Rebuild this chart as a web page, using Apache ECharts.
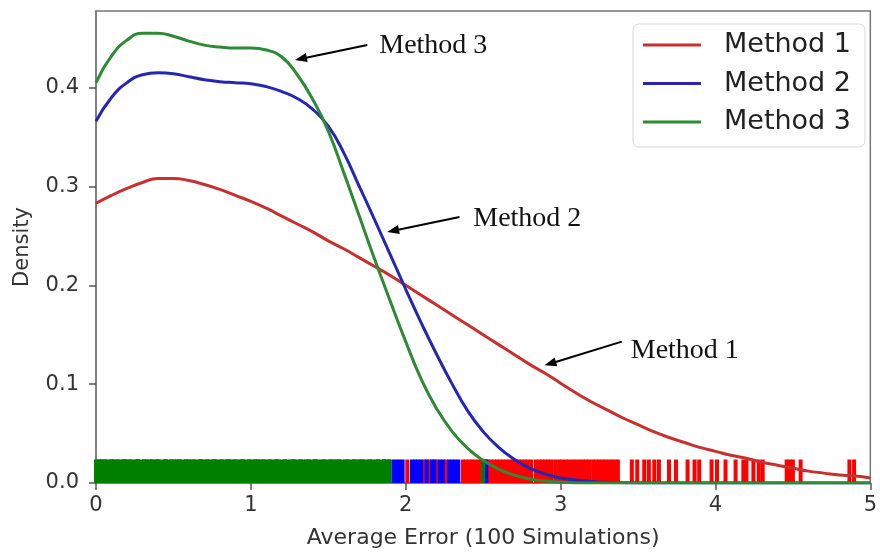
<!DOCTYPE html>
<html><head><meta charset="utf-8">
<script src="https://cdn.jsdelivr.net/npm/echarts@6/dist/echarts.min.js"></script>
<style>html,body{margin:0;padding:0;background:#fff}#c{width:880px;height:554px}</style>
</head><body><div id="c"></div>
<script>
// ---- data ----
const seriesNames = ['Method 1', 'Method 2', 'Method 3'];
const xs = [0.0,0.1,0.2,0.3,0.4,0.5,0.6,0.7,0.8,0.9,1.0,1.1,1.2,1.3,1.4,1.5,1.6,1.7,1.8,1.9,2.0,2.1,2.2,2.3,2.4,2.5,2.6,2.7,2.8,2.9,3.0,3.1,3.2,3.3,3.4,3.5,3.6,3.7,3.8,3.9,4.0,4.1,4.2,4.3,4.4,4.5,4.6,4.7,4.8,4.9,5.0];
const method1 = [0.283,0.291,0.298,0.304,0.308,0.308,0.306,0.302,0.297,0.291,0.285,0.278,0.270,0.262,0.254,0.245,0.237,0.228,0.219,0.210,0.200,0.190,0.180,0.170,0.160,0.150,0.140,0.130,0.120,0.111,0.101,0.091,0.082,0.074,0.066,0.059,0.052,0.046,0.041,0.036,0.032,0.028,0.025,0.021,0.018,0.015,0.012,0.010,0.008,0.007,0.005];
const method2 = [0.366,0.390,0.405,0.413,0.415,0.414,0.411,0.408,0.406,0.405,0.404,0.401,0.396,0.389,0.378,0.361,0.334,0.300,0.266,0.231,0.196,0.162,0.130,0.100,0.073,0.052,0.036,0.024,0.015,0.009,0.005,0.003,0.0015,0.0007,0.0003,0,0,0,0,0,0,0,0,0,0,0,0,0,0,0,0];
const method3 = [0.405,0.432,0.448,0.455,0.455,0.452,0.447,0.443,0.441,0.440,0.440,0.438,0.431,0.413,0.388,0.356,0.314,0.270,0.226,0.184,0.143,0.105,0.075,0.052,0.035,0.023,0.014,0.008,0.004,0.002,0.001,0,0,0,0,0,0,0,0,0,0,0,0,0,0,0,0,0,0,0,0];
const rug1 = [0.04,0.11,0.19,0.26,0.33,0.39,0.45,0.52,0.60,0.68,0.77,0.86,0.95,1.05,1.16,1.28,1.41,1.55,1.70,1.86,
  2.01,2.12,2.15,2.20,2.26,
  2.37,2.39,2.41,2.43,2.45,2.47,2.49,2.51,2.53,2.55,2.57,2.59,2.61,2.63,2.65,2.67,2.69,2.71,2.73,2.75,2.77,2.79,2.81,2.84,2.86,2.88,2.90,2.92,2.94,2.965,2.99,3.01,3.035,3.055,3.08,3.10,3.125,3.145,3.165,3.185,3.21,3.23,3.25,3.27,3.29,3.31,3.33,3.35,3.37,
  3.46,3.495,3.54,3.57,3.605,3.635,3.70,3.745,3.82,3.865,3.895,3.975,4.01,4.065,4.13,4.18,4.20,4.245,4.28,4.305,4.46,4.48,4.50,4.55,4.865,4.895];
const rug2 = [0.02,0.06,0.10,0.14,0.18,0.22,0.27,0.31,0.36,0.40,0.45,0.49,0.54,0.58,0.63,0.67,0.72,0.76,0.81,0.85,0.90,0.94,0.99,1.03,1.08,1.12,1.17,1.22,1.27,1.32,1.37,1.42,1.47,1.52,1.57,1.62,1.67,1.72,1.77,1.82,1.86,1.89,
  1.92,1.94,1.96,1.98,2.04,2.06,2.08,2.10,2.135,2.17,2.185,2.22,2.24,2.28,2.30,2.32,2.34,2.52];
const rug3 = [0.00,0.02,0.035,0.055,0.075,0.095,0.115,0.135,0.155,0.175,0.19,0.21,0.23,0.25,0.27,0.29,0.31,0.33,0.35,0.365,0.385,0.405,0.425,0.445,0.465,0.485,0.505,0.52,0.54,0.56,0.58,0.60,0.62,0.64,0.66,0.68,0.695,0.715,0.735,0.755,0.775,0.795,0.815,0.835,0.85,0.87,0.89,0.91,0.93,0.95,0.97,0.99,1.01,1.025,1.045,1.065,1.085,1.105,1.125,1.145,1.165,1.18,1.20,1.22,1.24,1.26,1.28,1.30,1.32,1.34,1.355,1.375,1.395,1.415,1.435,1.455,1.475,1.495,1.51,1.53,1.55,1.57,1.59,1.61,1.63,1.65,1.665,1.685,1.705,1.725,1.745,1.765,1.785,1.805,1.82,1.84,1.86,1.875,1.895,2.50];
const yTicks = [0, 0.1, 0.2, 0.3, 0.4];

// ---- styles ----
const lineColors = ['#c8302f', '#2626b4', '#2e8a34'];
const rugColors = ['#ff0000', '#0000ff', '#008000'];
const FONT = 'DejaVu Sans';

function pairs(vals) { return xs.map((x, i) => [x, vals[i]]); }

function rugSeries(vals, color) {
  return {
    type: 'custom', silent: true, z: 2,
    data: vals.map(v => [v]),
    encode: { x: 0 },
    renderItem: function (params, api) {
      const p = api.coord([api.value(0), 0]);
      return { type: 'rect', shape: { x: p[0] - 2, y: p[1] - 23.5, width: 4, height: 23.5 },
        style: { fill: color } };
    }
  };
}

const annotations = [
  { name: 'Method 3', value: [1.752, 0.443, 1.285, 0.428, 1.829, 0.442] },
  { name: 'Method 2', value: [2.347, 0.269, 1.880, 0.254, 2.436, 0.267] },
  { name: 'Method 1', value: [3.395, 0.143, 2.896, 0.119, 3.453, 0.134] }
];

const option = {
  animation: false,
  backgroundColor: '#fff',
  grid: { left: 96, right: 2, top: 11, bottom: 69, show: true, borderColor: '#777', borderWidth: 1.5, containLabel: false },
  legend: {
    orient: 'vertical', right: 15, top: 24,
    data: seriesNames,
    icon: 'rect', itemWidth: 58, itemHeight: 3, itemGap: 11.5,
    padding: [7.5, 14, 11.5, 10],
    textStyle: { fontFamily: FONT, fontSize: 27, color: '#222', lineHeight: 27, padding: [0, 0, 0, 18] },
    backgroundColor: 'rgba(255,255,255,0.9)', borderColor: '#d8d8d8', borderWidth: 1, borderRadius: 6
  },
  xAxis: {
    type: 'value', min: 0, max: 5, interval: 1,
    axisLine: { show: true, lineStyle: { color: '#777', width: 1.5 } },
    axisTick: { show: true, length: 7, lineStyle: { color: '#555', width: 1.5 } },
    axisLabel: { fontFamily: FONT, fontSize: 21, color: '#333', margin: 12 },
    splitLine: { show: false },
    name: 'Average Error (100 Simulations)', nameLocation: 'middle', nameGap: 44,
    nameTextStyle: { fontFamily: FONT, fontSize: 22, color: '#333' }
  },
  yAxis: {
    type: 'value', min: 0, max: 0.4775, interval: 0.1,
    axisLine: { show: true, lineStyle: { color: '#777', width: 1.5 } },
    axisTick: { show: true, length: 7, customValues: yTicks, lineStyle: { color: '#555', width: 1.5 } },
    axisLabel: { fontFamily: FONT, fontSize: 21, color: '#333', margin: 17, customValues: yTicks,
      formatter: v => v.toFixed(1) },
    splitLine: { show: false },
    name: 'Density', nameLocation: 'middle', nameGap: 63, nameRotate: 90,
    nameTextStyle: { fontFamily: FONT, fontSize: 21, color: '#333' }
  },
  series: [
    rugSeries(rug1, rugColors[0]),
    rugSeries(rug2, rugColors[1]),
    rugSeries(rug3, rugColors[2]),
    ...[method1, method2, method3].map((vals, i) => ({
      type: 'line', name: seriesNames[i], data: pairs(vals), z: 5,
      showSymbol: false, smooth: 0.5, color: lineColors[i],
      lineStyle: { color: lineColors[i], width: 3 }
    })),
    {
      type: 'custom', silent: true, z: 8,
      data: annotations,
      renderItem: function (params, api) {
        const tail = api.coord([api.value(0), api.value(1)]);
        const tip = api.coord([api.value(2), api.value(3)]);
        const txt = api.coord([api.value(4), api.value(5)]);
        const dx = tip[0] - tail[0], dy = tip[1] - tail[1];
        const len = Math.sqrt(dx * dx + dy * dy);
        const ux = dx / len, uy = dy / len;
        const hl = 12, hw = 4.5;
        const bx = tip[0] - ux * hl, by = tip[1] - uy * hl;
        const px = -uy, py = ux;
        return { type: 'group', children: [
          { type: 'line', shape: { x1: tail[0], y1: tail[1], x2: bx + ux * 2, y2: by + uy * 2 },
            style: { stroke: '#000', lineWidth: 2 } },
          { type: 'polygon', shape: { points: [tip, [bx + px * hw, by + py * hw], [bx - px * hw, by - py * hw]] },
            style: { fill: '#000' } },
          { type: 'text', x: txt[0], y: txt[1],
            style: { text: annotations[params.dataIndex].name, font: '28px "Liberation Serif"', fill: '#111',
              verticalAlign: 'middle', align: 'left' } }
        ] };
      }
    }
  ]
};

const chart = echarts.init(document.getElementById('c'));
chart.setOption(option);
</script>
</body></html>
